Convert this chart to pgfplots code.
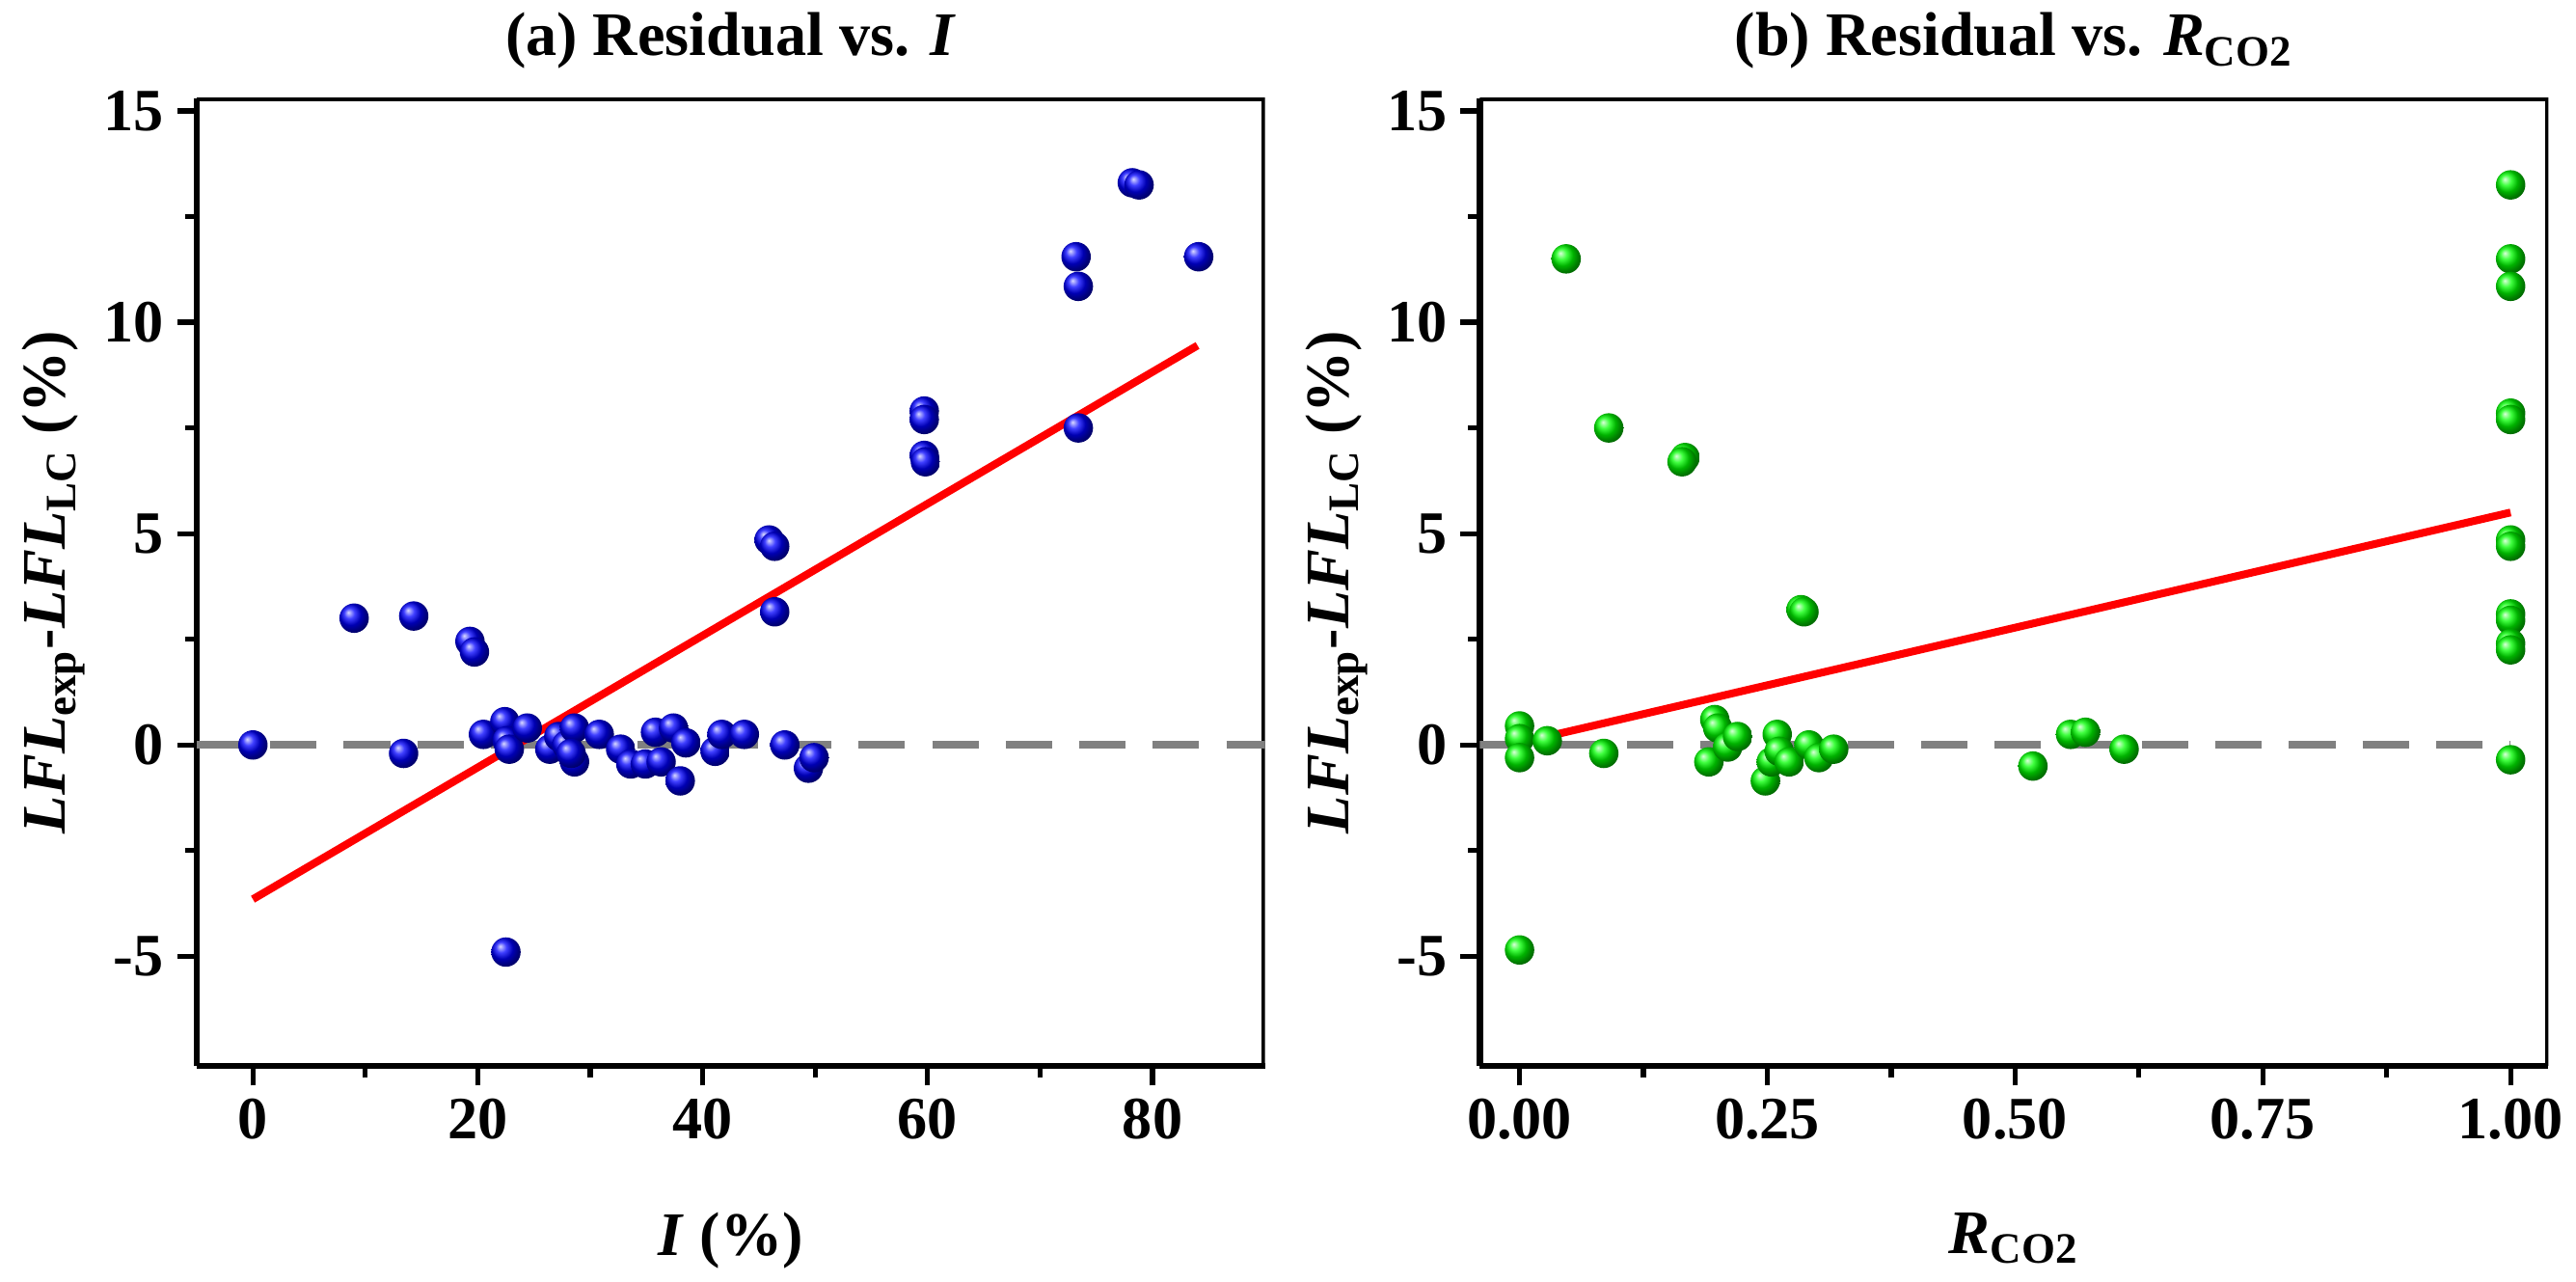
\documentclass[border=0pt]{standalone}
\usepackage{pgfplots}
\pgfplotsset{compat=1.18}
\usepackage{fontspec}
\setmainfont{Liberation Serif}
\begin{document}
\pgfplotsset{
  myax/.style={
    width=276pt, height=250pt, scale only axis,
    axis line style={line width=1.6pt},
    axis x line*=bottom, axis y line*=left,
    tick align=outside, tick style={line width=1.3pt, black},
    major tick length=5pt, minor tick length=3pt,
    minor tick num=1,
    ymin=-7.6, ymax=15.3,
    ytick={-5,0,5,10,15},
    tick label style={font=\fontsize{15.5}{17}\selectfont\bfseries},
    /pgf/number format/assume math mode=true,
    label style={font=\fontsize{16}{18}\selectfont\bfseries},
    title style={font=\fontsize{16}{18}\selectfont\bfseries, yshift=-2pt},
    ylabel={\textit{LFL}\textsubscript{exp}-\textit{LFL}\textsubscript{LC} (\%)},
    ylabel style={yshift=-2pt},
    xlabel style={yshift=-12pt},
    clip=true,
  },
}
\begin{tikzpicture}
\begin{axis}[myax, xmin=-5, xmax=90, xtick={0,20,40,60,80},
  title={(a) Residual vs. \textit{I}}, xlabel={\textit{I} (\%)}]
\draw[line width=1.6pt] (rel axis cs:0,1) -- (rel axis cs:1,1) -- (rel axis cs:1,0);
\addplot[gray, line width=2pt, dash pattern=on 12pt off 7pt] coordinates {(-5,0) (90,0)};
\addplot[only marks, mark=ball, mark options={ball color=blue, draw opacity=0}, mark size=3.8pt] coordinates {
(0,0) (9,3.0) (14.3,3.05) (19.3,2.45) (19.7,2.2) (13.4,-0.2) (20.5,0.25) (22.4,0.55) (22.6,0.1) (22.8,-0.1) (22.5,-4.9)
(24.4,0.4) (26.4,-0.1) (27.2,0.2) (27.9,0) (28.6,0.4) (28.6,-0.4) (28.3,-0.2) (30.8,0.25) (32.7,-0.1) (33.6,-0.45)
(34.9,-0.45) (35.8,0.3) (36.3,-0.4) (37.4,0.4) (38,-0.85) (38.5,0.05) (41.1,-0.15) (41.7,0.25) (43.7,0.25) (47.3,0)
(49.4,-0.55) (49.9,-0.3) (45.9,4.85) (46.4,4.7) (46.4,3.15) (59.7,7.9) (59.7,7.7) (59.7,6.85) (59.8,6.7)
(73.2,11.55) (73.4,10.85) (73.4,7.5) (78.2,13.3) (78.8,13.25) (84.1,11.55)};
\addplot[red, line width=2pt] coordinates {(0,-3.65) (84,9.45)};
\end{axis}
\begin{axis}[myax, xshift=331.5pt, xmin=-0.04, xmax=1.038, xtick={0,0.25,0.5,0.75,1},
  xticklabel style={/pgf/number format/.cd, fixed, fixed zerofill, precision=2},
  title={(b) Residual vs. \textit{R}\textsubscript{CO2}}, xlabel={\textit{R}\textsubscript{CO2}}]
\draw[line width=1.6pt] (rel axis cs:0,1) -- (rel axis cs:1,1) -- (rel axis cs:1,0);
\addplot[gray, line width=2pt, dash pattern=on 12pt off 7pt] coordinates {(-0.04,0) (1.0,0)};
\addplot[only marks, mark=ball, mark options={ball color=green, draw opacity=0}, mark size=3.8pt] coordinates {
(0,0.45) (0,0.15) (0,-0.3) (0,-4.85) (0.028,0.1) (0.047,11.5) (0.085,-0.2) (0.09,7.5) (0.167,6.8) (0.164,6.7)
(0.191,-0.4) (0.197,0.6) (0.2,0.4) (0.21,-0.05) (0.22,0.2) (0.248,-0.85) (0.254,-0.4) (0.26,0.25) (0.262,-0.15)
(0.272,-0.4) (0.284,3.2) (0.287,3.15) (0.292,0) (0.302,-0.3) (0.317,-0.1) (0.518,-0.5) (0.556,0.25) (0.571,0.3) (0.61,-0.1)
(1,13.25) (1,11.5) (1,10.85) (1,7.85) (1,7.7) (1,4.85) (1,4.7) (1,3.1) (1,2.95) (1,2.4) (1,2.25) (1,-0.35)};
\addplot[red, line width=2pt] coordinates {(0,0.05) (1,5.5)};
\end{axis}
\end{tikzpicture}
\end{document}
